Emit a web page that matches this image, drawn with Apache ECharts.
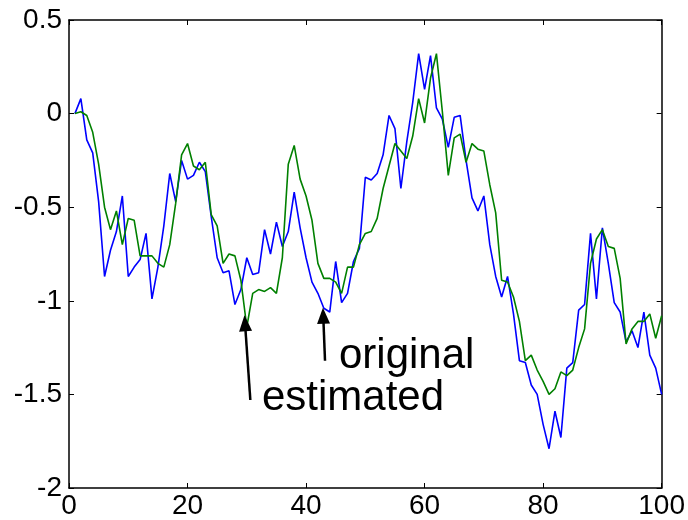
<!DOCTYPE html>
<html>
<head>
<meta charset="utf-8">
<script src="https://cdn.jsdelivr.net/npm/echarts@6/dist/echarts.min.js"></script>
<style>
html, body { margin: 0; padding: 0; background: #fff; }
#chart { width: 688px; height: 520px; }
</style>
</head>
<body>
<div id="chart"></div>
<script>
// sample values, x = 1..100
var original = [
	0, 0.08, -0.14, -0.21, -0.47, -0.87, -0.73, -0.63, -0.44, -0.87,
	-0.82, -0.78, -0.64, -0.99, -0.82, -0.60, -0.32, -0.47, -0.25, -0.35,
	-0.33, -0.26, -0.31, -0.55, -0.77, -0.85, -0.84, -1.02, -0.94, -0.77,
	-0.86, -0.85, -0.62, -0.75, -0.58, -0.71, -0.63, -0.42, -0.61, -0.77,
	-0.90, -0.96, -1.04, -1.06, -0.79, -1.01, -0.96, -0.79, -0.72, -0.34,
	-0.355, -0.32, -0.22, -0.01, -0.08, -0.40, -0.15, 0.06, 0.32, 0.13,
	0.31, 0.03, -0.03, -0.18, -0.02, -0.01, -0.25, -0.45, -0.52, -0.44,
	-0.70, -0.87, -0.98, -0.87, -1.07, -1.32, -1.33, -1.45, -1.50, -1.66,
	-1.79, -1.59, -1.73, -1.36, -1.33, -1.05, -1.02, -0.64, -0.99, -0.61,
	-0.80, -1.01, -1.06, -1.22, -1.16, -1.25, -1.06, -1.29, -1.36, -1.50
]
var estimated = [
	0, 0.01, -0.01, -0.10, -0.27, -0.50, -0.62, -0.52, -0.70, -0.56,
	-0.57, -0.76, -0.76, -0.76, -0.80, -0.82, -0.70, -0.48, -0.22, -0.16,
	-0.28, -0.30, -0.26, -0.54, -0.60, -0.80, -0.75, -0.76, -0.89, -1.14,
	-0.96, -0.94, -0.95, -0.93, -0.96, -0.77, -0.27, -0.17, -0.35, -0.44,
	-0.57, -0.80, -0.88, -0.88, -0.90, -0.96, -0.82, -0.82, -0.70, -0.64,
	-0.63, -0.56, -0.40, -0.28, -0.16, -0.20, -0.24, -0.12, 0.08, -0.05,
	0.19, 0.32, 0.01, -0.33, -0.13, -0.11, -0.26, -0.16, -0.19, -0.20,
	-0.38, -0.53, -0.89, -0.90, -0.98, -1.11, -1.32, -1.29, -1.37, -1.43,
	-1.50, -1.47, -1.38, -1.40, -1.37, -1.25, -1.15, -0.80, -0.67, -0.62,
	-0.71, -0.72, -0.88, -1.23, -1.15, -1.11, -1.11, -1.07, -1.20, -1.08
]
var xTicks = [0, 20, 40, 60, 80, 100]
var yTicks = [0.5, 0, -0.5, -1, -1.5, -2]
// arrow annotations: [tail, head] in data coords
var arrowEstimated = [[30.6, -1.53], [29.7, -1.12]]
var arrowOriginal = [[43.2, -1.32], [42.9, -1.08]]

var font = 'Liberation Sans, Arial, sans-serif'

function pairs (arr) {
	return arr.map(function (v, i) { return [i + 1, v] })
}

var chart = echarts.init(document.getElementById('chart'))

var axisCommon = {
	axisLine: { show: true, onZero: false, lineStyle: { color: '#000', width: 1.5 } },
	axisTick: { show: true, inside: true, length: 5, lineStyle: { color: '#000', width: 1 } },
	splitLine: { show: false }
}

chart.setOption({
	animation: false,
	backgroundColor: '#fff',
	grid: { left: 69, right: 24, top: 20, bottom: 32, containLabel: false },
	xAxis: [
		Object.assign({
			type: 'value', position: 'bottom',
			min: xTicks[0], max: xTicks[xTicks.length - 1], interval: 20,
			axisLabel: { color: '#000', fontSize: 28, fontFamily: font, margin: 4 }
		}, axisCommon),
		Object.assign({
			type: 'value', position: 'top',
			min: xTicks[0], max: xTicks[xTicks.length - 1], interval: 20,
			axisLabel: { show: false }
		}, axisCommon)
	],
	yAxis: [
		Object.assign({
			type: 'value', position: 'left',
			min: yTicks[yTicks.length - 1], max: yTicks[0], interval: 0.5,
			axisLabel: { color: '#000', fontSize: 28, fontFamily: font, margin: 7 }
		}, axisCommon),
		Object.assign({
			type: 'value', position: 'right',
			min: yTicks[yTicks.length - 1], max: yTicks[0], interval: 0.5,
			axisLabel: { show: false }
		}, axisCommon)
	],
	series: [
		{
			name: 'original',
			type: 'line',
			data: pairs(original),
			symbol: 'none',
			lineStyle: { color: '#0000ff', width: 1.6 },
			z: 2
		},
		{
			name: 'estimated',
			type: 'line',
			data: pairs(estimated),
			symbol: 'none',
			lineStyle: { color: '#008000', width: 1.6 },
			z: 3,
			markLine: {
				silent: true,
				symbol: ['none', 'triangle'],
				symbolSize: [13, 16],
				label: { show: false },
				lineStyle: { color: '#000', width: 2.5, type: 'solid' },
				data: [
					[{ coord: arrowEstimated[0] }, { coord: arrowEstimated[1] }],
					[{ coord: arrowOriginal[0] }, { coord: arrowOriginal[1] }]
				]
			}
		}
	],
	graphic: [
		{
			type: 'text', left: 339, top: 335,
			style: { text: 'original', fill: '#000', font: '42px ' + font }
		},
		{
			type: 'text', left: 262, top: 377,
			style: { text: 'estimated', fill: '#000', font: '42px ' + font }
		}
	]
})
</script>
</body>
</html>
